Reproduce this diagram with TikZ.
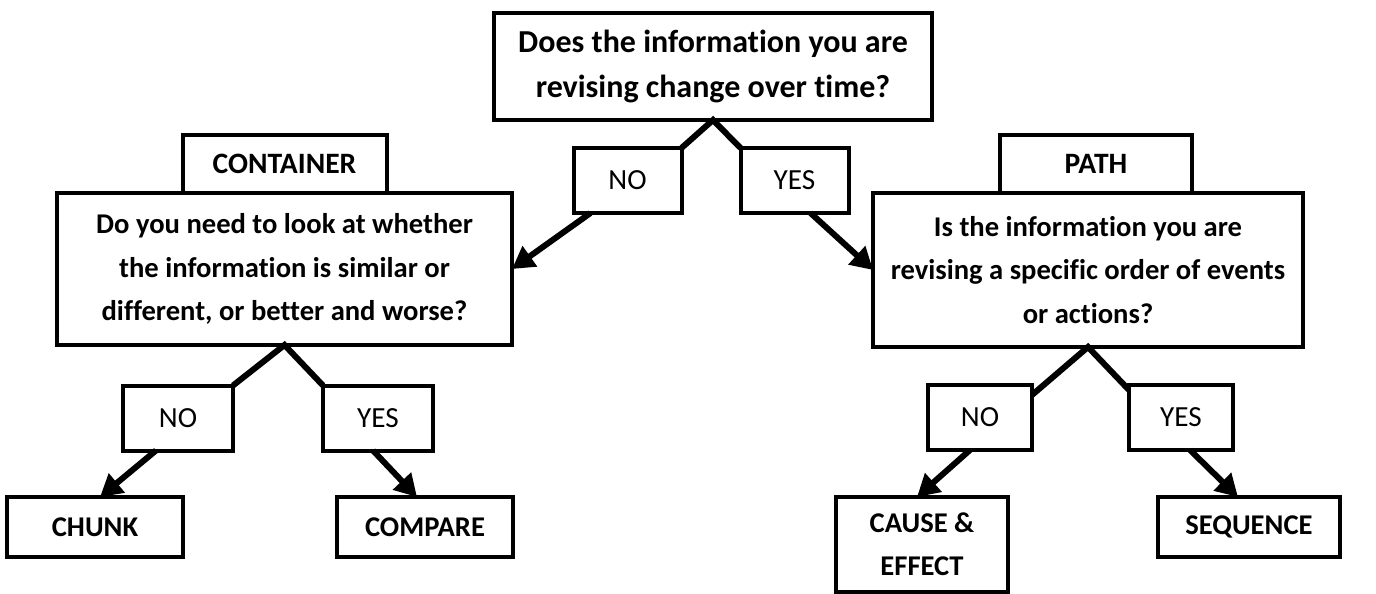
\documentclass[tikz,border=0pt]{standalone}
\usepackage{fontspec}
\setmainfont{Carlito}[Ligatures=NoCommon]
\usetikzlibrary{arrows.meta,positioning,calc}

\begin{document}
\begin{tikzpicture}[x=0.5pt,y=-0.5pt,
block/.style={draw,rectangle,line width=2pt,outer sep=0pt,inner sep=2pt,align=center,node distance=0pt,
  font=\fontsize{14.3}{21.7}\selectfont\bfseries},
answer/.style={block,font=\fontsize{14.6}{18}\selectfont,minimum width=54pt,minimum height=32.5pt},
result/.style={block,minimum width=88pt,minimum height=30pt},
link/.style={line width=3pt},
arrow/.style={line width=3pt,-{Triangle[length=11pt,width=12pt]}}]

    \useasboundingbox (0,0) rectangle (1376,594);

    % top question
    \node [block, minimum width=219pt, minimum height=53.5pt, font=\fontsize{16}{22.5}\selectfont\bfseries] (q0) at (713,66.5) {Does the information you are\\revising change over time?};
    \node [answer] (no0) at (627.5,180.5) {NO};
    \node [answer] (yes0) at (794.5,180.5) {YES};

    % container side
    \node [block, minimum width=227.5pt, minimum height=76pt] (q1) at (284.5,269) {Do you need to look at whether\\the information is similar or\\different, or better and worse?};
    \node [block, minimum width=102pt, minimum height=29pt, above = of q1, font=\fontsize{14.8}{18}\selectfont\bfseries] (cont) {CONTAINER};
    \node [answer, minimum width=55pt] (no1) at (178,418) {NO};
    \node [answer, minimum width=55pt] (yes1) at (378,418) {YES};
    \node [result] (chunk) at (95,527) {CHUNK};
    \node [result] (compare) at (425,527) {COMPARE};

    % path side
    \node [block, minimum width=215pt, minimum height=77pt] (q2) at (1088,270) {Is the information you are\\revising a specific order of events\\or actions?};
    \node [block, minimum width=96pt, minimum height=29pt, above = of q2, xshift=4pt, font=\fontsize{14.8}{18}\selectfont\bfseries] (path) {PATH};
    \node [answer, minimum width=52pt] (no2) at (980,417.5) {NO};
    \node [answer, minimum width=52pt] (yes2) at (1181,417.5) {YES};
    \node [result, minimum width=86pt, minimum height=47.5pt] (cause) at (922,544.5) {CAUSE \&\\EFFECT};
    \node [result, minimum width=91pt] (sequence) at (1249,527) {SEQUENCE};

    \draw [link] (no0.north east) -- (q0.south) -- (yes0.north west);
    \draw [arrow] ($(no0.south)+(-37,0)$) -- (q1.east);
    \draw [arrow] ($(yes0.south)+(16,0)$) -- (q2.west);

    \draw [link] (no1.north east) -- (q1.south) -- (yes1.north west);
    \draw [arrow] ($(no1.south)+(-22,0)$) -- ($(chunk.north)+(5,0)$);
    \draw [arrow] ($(yes1.south)+(-5,0)$) -- ($(compare.north)+(-8,0)$);

    \draw [link] ($(no2.north east)+(0,10)$) -- (q2.south) -- ($(yes2.north west)+(0,5)$);
    \draw [arrow] ($(no2.south)+(-10,0)$) -- ($(cause.north)+(-5,0)$);
    \draw [arrow] ($(yes2.south)+(9,0)$) -- ($(sequence.north)+(-11,0)$);
\end{tikzpicture}
\end{document}
